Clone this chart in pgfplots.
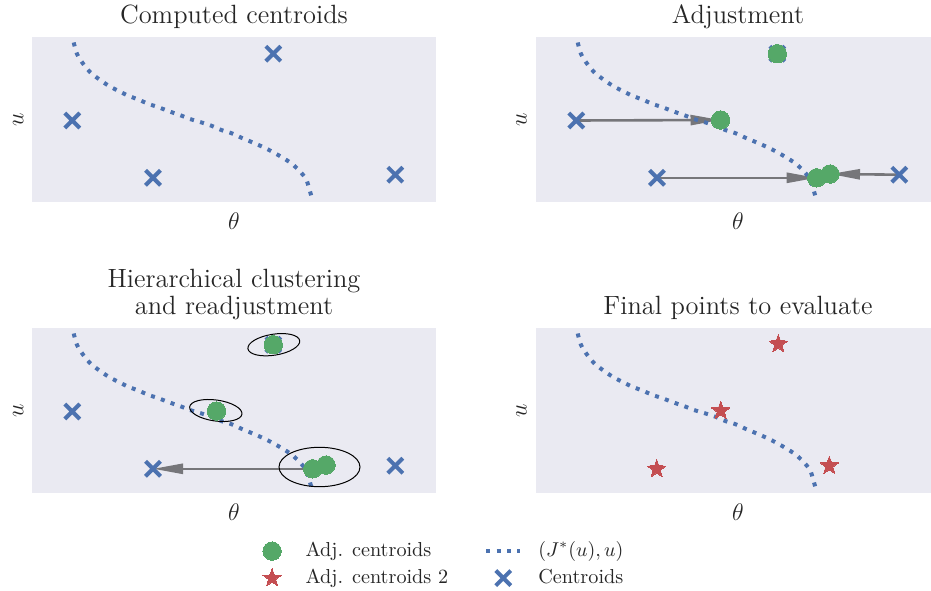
\documentclass[border=0pt]{standalone}
\usepackage{pgfplots}
\pgfplotsset{compat=1.18}
\usepackage{pgfplotstable}
\usetikzlibrary{arrows.meta}

\definecolor{bg}{HTML}{EAEAF2}
\definecolor{sbblue}{HTML}{4C72B0}
\definecolor{sbgreen}{HTML}{55A868}
\definecolor{sbred}{HTML}{C44E52}
\definecolor{txt}{HTML}{262626}
\definecolor{arrgray}{RGB}{118,118,122}

% filled five-pointed star
\pgfdeclareplotmark{fstar}{%
  \pgfpathmoveto{\pgfpointpolar{90}{\pgfplotmarksize}}%
  \pgfpathlineto{\pgfpointpolar{126}{0.4\pgfplotmarksize}}%
  \pgfpathlineto{\pgfpointpolar{162}{\pgfplotmarksize}}%
  \pgfpathlineto{\pgfpointpolar{198}{0.4\pgfplotmarksize}}%
  \pgfpathlineto{\pgfpointpolar{234}{\pgfplotmarksize}}%
  \pgfpathlineto{\pgfpointpolar{270}{0.4\pgfplotmarksize}}%
  \pgfpathlineto{\pgfpointpolar{306}{\pgfplotmarksize}}%
  \pgfpathlineto{\pgfpointpolar{342}{0.4\pgfplotmarksize}}%
  \pgfpathlineto{\pgfpointpolar{18}{\pgfplotmarksize}}%
  \pgfpathlineto{\pgfpointpolar{54}{0.4\pgfplotmarksize}}%
  \pgfpathclose
  \pgfusepathqfillstroke
}

% data in pixel units of the panels (x from left edge, y from bottom edge)
\pgfplotstableread{
x y
241.3 148.3
40.3 81.5
121.0 24.2
363.3 27.3
}\centroids

\pgfplotstableread{
x y
241.3 148.3
184.5 82.0
280.7 24.2
294.0 28.0
}\adjc

\pgfplotstableread{
x y
242.3 149.0
184.7 82.3
120.7 24.0
293.3 27.3
}\adjtwo

\pgfplotstableread{
x y
41.7 159.5
45.0 148.0
51.3 138.0
58.3 129.7
66.7 123.0
76.3 116.5
86.0 111.3
96.3 106.3
106.7 102.3
116.7 98.0
126.7 94.7
137.0 90.7
147.7 87.0
158.0 83.0
169.0 79.7
179.3 76.3
189.3 72.0
199.7 68.7
210.0 64.0
220.3 59.7
230.3 55.3
240.3 50.3
250.0 44.7
259.3 38.7
267.3 31.3
274.0 23.0
277.3 13.0
280.7 1.0
}\jcurve

\pgfplotsset{
  panel/.style={scale only axis, width=202pt, height=82.5pt,
    xmin=0, xmax=404, ymin=0, ymax=165,
    xtick=\empty, ytick=\empty,
    axis line style={draw=none},
    axis background/.style={fill=bg},
    xlabel={$\theta$}, ylabel={$u$},
    label style={font=\fontsize{12}{14}\selectfont, text=txt},
    xlabel style={at={(axis description cs:0.5,-0.167)}, anchor=base},
    ylabel style={at={(axis description cs:-0.0215,0.5)}, anchor=base, rotate=0},
    title style={at={(axis description cs:0.5,1.0103)}, anchor=base,
      font=\fontsize{13.2}{13.65}\selectfont, text=txt, align=center},
    anchor=south west},
  rpanel/.style={panel, width=197.5pt, xmax=395,
    xlabel style={at={(axis description cs:0.5114,-0.167)}},
    ylabel style={at={(axis description cs:-0.0235,0.5)}},
    title style={at={(axis description cs:0.5114,1.0103)}}},
  cross/.style={forget plot, only marks, mark=x, mark size=5.3pt, color=sbblue,
    mark options={line width=2pt}},
  adot/.style={forget plot, only marks, mark=*, mark size=4.6pt, color=sbgreen,
    mark options={draw=sbgreen, fill=sbgreen, line width=0pt}},
  astar/.style={forget plot, only marks, mark=fstar, mark size=4.8pt, color=sbred,
    mark options={draw=sbred, fill=sbred, line width=0pt}},
  jline/.style={forget plot, no markers, smooth, color=sbblue, line width=2pt,
    dash pattern=on 2pt off 3.2pt},
  arr/.style={forget plot, no markers, arrgray, line width=1.3pt,
    -{Triangle[length=15pt, width=5pt]}},
  mlegend/.style={legend image code/.code={%
    \path (0cm,0cm) (0.6cm,0cm);
    \draw[mark repeat=2, mark phase=2, ##1] plot coordinates {(0cm,0cm) (0.3cm,0cm) (0.6cm,0cm)};}},
}

\begin{document}
\begin{tikzpicture}
\path[use as bounding box] (0,0) rectangle (465.5pt,295pt);

% top left
\begin{axis}[panel, at={(16pt,194pt)}, title={Computed centroids}]
  \addplot[cross] table {\centroids};
  \addplot[jline] table {\jcurve};
\end{axis}

% top right
\begin{axis}[rpanel, at={(268pt,194pt)}, title={Adjustment}]
  \addplot[cross] table {\centroids};
  \addplot[adot] table {\adjc};
  \addplot[arr] coordinates {(40.3,81.5) (184.5,82.0)};
  \addplot[arr] coordinates {(121.0,24.2) (280.7,24.2)};
  \addplot[arr] coordinates {(363.3,27.3) (294.0,28.0)};
  \addplot[jline] table {\jcurve};
\end{axis}

% bottom left
\begin{axis}[panel, at={(16pt,48.5pt)},
    title={Hierarchical clustering\\and readjustment},
    legend columns=2,
    legend cell align=left,
    legend style={draw=none, fill=none, inner sep=0pt,
      at={(axis description cs:0.55,-0.28)}, anchor=north west,
      font=\fontsize{10.1}{12}\selectfont, text=txt,
      nodes={inner sep=1pt, text height=7.3pt, text depth=2.2pt},
      row sep=2pt,
      /tikz/every odd column/.append style={column sep=7pt},
      /tikz/every even column/.append style={column sep=17pt}}]
  \addplot[cross] table {\centroids};
  \addplot[adot] table {\adjc};
  \addplot[arr] coordinates {(280.7,24.2) (121.0,24.2)};
  \addplot[jline] table {\jcurve};
  \draw[black, line width=0.5pt] (axis cs:241.8,148.3) ellipse [x radius=13.1pt, y radius=5.25pt, rotate=9];
  \draw[black, line width=0.5pt] (axis cs:183.8,82.5) ellipse [x radius=13.2pt, y radius=5.25pt, rotate=-8];
  \draw[black, line width=0.5pt] (axis cs:287.5,26.0) ellipse [x radius=20.25pt, y radius=9.85pt];
  \addlegendimage{only marks, mark=*, mark size=4.6pt, color=sbgreen,
    mark options={draw=sbgreen, fill=sbgreen, line width=0pt}, mlegend}
  \addlegendentry{Adj. centroids}
  \addlegendimage{no markers, color=sbblue, line width=2pt, dash pattern=on 2pt off 3.2pt}
  \addlegendentry{$(J^*(u),u)$}
  \addlegendimage{only marks, mark=fstar, mark size=4.8pt, color=sbred,
    mark options={draw=sbred, fill=sbred, line width=0pt}, mlegend}
  \addlegendentry{Adj. centroids 2}
  \addlegendimage{only marks, mark=x, mark size=5.3pt, color=sbblue,
    mark options={line width=2pt}, mlegend}
  \addlegendentry{Centroids}
\end{axis}

% bottom right
\begin{axis}[rpanel, at={(268pt,48.5pt)}, title={Final points to evaluate}]
  \addplot[jline] table {\jcurve};
  \addplot[astar] table {\adjtwo};
\end{axis}
\end{tikzpicture}
\end{document}
